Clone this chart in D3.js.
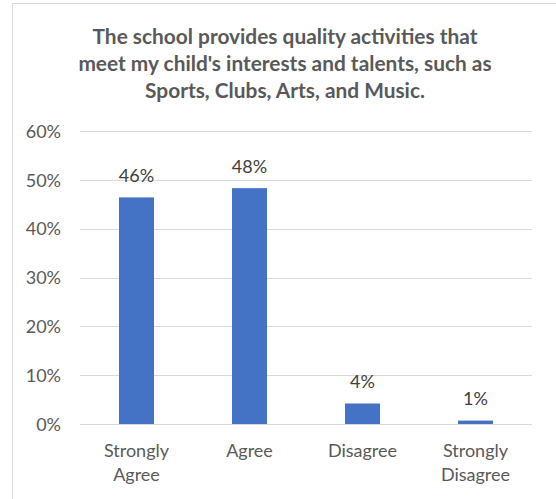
<!DOCTYPE html>
<html><head><meta charset="utf-8">
<script src="https://cdn.jsdelivr.net/npm/d3@7/dist/d3.min.js"></script>
<style>
html,body{margin:0;padding:0;background:#fff;}
svg{display:block;}
text{font-family:Lato,"Open Sans",sans-serif;}
</style></head>
<body>
<script>
const categories = [["Strongly","Agree"],["Agree"],["Disagree"],["Strongly","Disagree"]];
const values = [0.464, 0.483, 0.042, 0.007];
const valueLabels = ["46%","48%","4%","1%"];
const yTicks = [0,0.1,0.2,0.3,0.4,0.5,0.6];
const titleLines = ["The school provides quality activities that","meet my child's interests and talents, such as","Sports, Clubs, Arts, and Music."];

(function(){
const W = 556, H = 499;
const svg = d3.select("body").append("svg").attr("width",W).attr("height",H);
svg.append("rect").attr("x",12.5).attr("y",3.5).attr("width",W).attr("height",H)
  .attr("fill","#fff").attr("stroke","#d9d9d9").attr("stroke-width",1);

const pl = 80, pr = 532, pt = 131, pb = 424;
const fs = 18;
const x = d3.scaleBand().domain(d3.range(categories.length)).range([pl,pr]).paddingInner(0.69).paddingOuter(0.345);
const y = d3.scaleLinear().domain([0,0.6]).range([pb,pt]);

// title
const tl = svg.append("g").selectAll("text").data(titleLines).join("text")
  .attr("x",285).attr("y",(d,i)=>44+i*27).attr("text-anchor","middle")
  .attr("font-weight","bold").attr("fill","#595959").attr("font-size",19).text(d=>d);
const w0 = tl.node().getComputedTextLength();
tl.attr("font-size",19*385/w0);

// grid
svg.append("g").selectAll("line").data(yTicks).join("line")
  .attr("x1",pl).attr("x2",pr)
  .attr("y1",d=>Math.round(y(d))+0.5).attr("y2",d=>Math.round(y(d))+0.5)
  .attr("stroke","#d9d9d9").attr("stroke-width",1);

// y axis labels
const yAxis = d3.axisLeft(y).tickValues(yTicks).tickFormat(d3.format(".0%")).tickSize(0).tickPadding(0);
const yg = svg.append("g").attr("transform",`translate(61,0)`).call(yAxis);
yg.select(".domain").remove();
yg.selectAll("text").attr("font-size",fs).attr("fill","#595959").attr("font-family","Lato,sans-serif").attr("dy","0.35em");

// bars
svg.append("g").selectAll("rect").data(values).join("rect")
  .attr("x",(d,i)=>x(i)).attr("width",x.bandwidth())
  .attr("y",d=>y(d)).attr("height",d=>pb-y(d)).attr("fill","#4472c4");

// value labels
svg.append("g").selectAll("text").data(values).join("text")
  .attr("x",(d,i)=>x(i)+x.bandwidth()/2).attr("y",d=>y(d)-15.5)
  .attr("text-anchor","middle").attr("font-size",fs).attr("fill","#404040")
  .text((d,i)=>valueLabels[i]);

// category labels
const cg = svg.append("g").selectAll("text").data(categories).join("text")
  .attr("x",(d,i)=>x(i)+x.bandwidth()/2).attr("y",457)
  .attr("text-anchor","middle").attr("font-size",fs).attr("fill","#595959");
cg.selectAll("tspan").data(d=>d).join("tspan")
  .attr("x",function(){return this.parentNode.getAttribute("x");})
  .attr("dy",(d,i)=>i===0?0:24).text(d=>d);
})();
</script>
</body></html>
